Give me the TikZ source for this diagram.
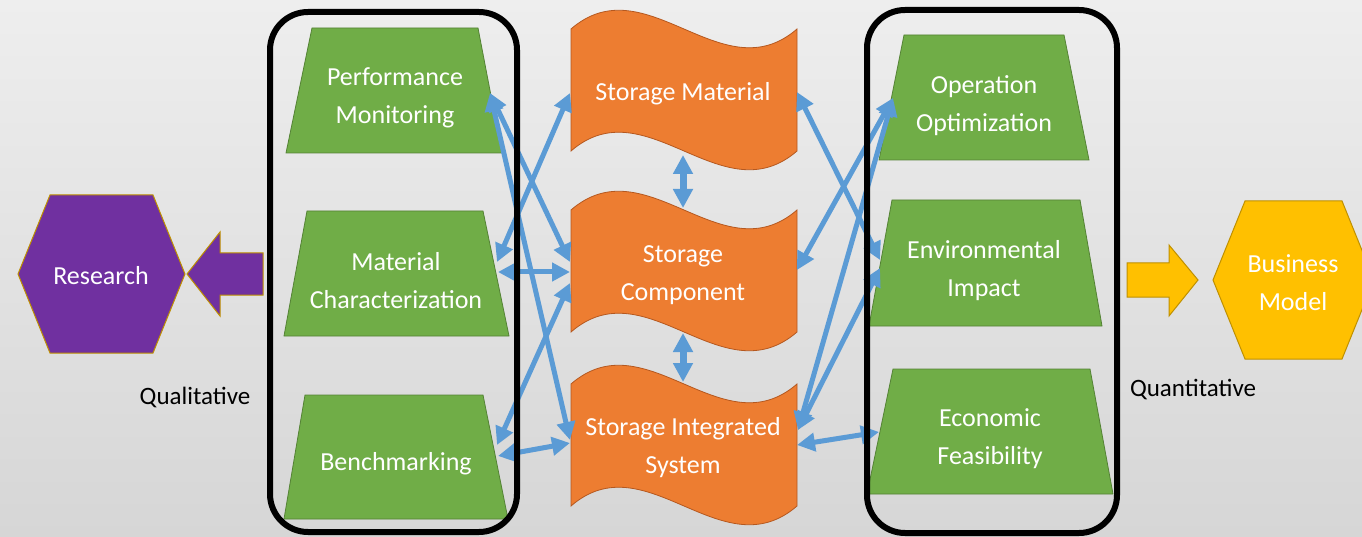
\documentclass[tikz,border=0pt]{standalone}
\usepackage{fontspec}
\setmainfont{Carlito}
\usetikzlibrary{arrows.meta}
\definecolor{bgtop}{HTML}{EEEEEE}
\definecolor{bgbot}{HTML}{D6D6D6}
\definecolor{grn}{HTML}{70AD47}
\definecolor{grnd}{HTML}{548235}
\definecolor{org}{HTML}{ED7D31}
\definecolor{orgd}{HTML}{B5581F}
\definecolor{blu}{HTML}{5B9BD5}
\definecolor{pur}{HTML}{7030A0}
\definecolor{gold}{HTML}{BF9000}
\definecolor{yel}{HTML}{FFC000}
\tikzset{
 greenbox/.style={fill=grn, draw=grnd, line width=0.8pt},
 wavebox/.style={fill=org, draw=orgd, line width=0.8pt},
 frame/.style={draw=black, line width=6pt, rounded corners=38pt},
 link/.style={draw=blu, line width=5pt, {Triangle[length=18pt,width=18pt]}-{Triangle[length=18pt,width=18pt]}},
 vlink/.style={draw=blu, line width=7pt, {Triangle[length=19pt,width=19pt]}-{Triangle[length=19pt,width=19pt]}},
 wtext/.style={text=white, font=\fontsize{26}{38}\selectfont, align=center, inner sep=0pt, yshift=-2pt},
 btext/.style={text=black, font=\fontsize{25}{30}\selectfont, inner sep=0pt},
}
\newcommand\wavepath{(0,0) .. controls (75,-65) and (151,65) .. (226,0) -- (226,122) .. controls (151,187) and (75,57) .. (0,122) -- cycle}
\begin{document}
\begin{tikzpicture}[x=1pt,y=-1pt]
\useasboundingbox (0,0) rectangle (1362,537);
\clip (0,0) rectangle (1362,537);
\shade[top color=bgtop, bottom color=bgbot] (0,0) rectangle (1362,537);

% left hexagon and arrow
\path[fill=pur, draw=gold, line width=1pt] (18,274) -- (50,195) -- (153,195) -- (185,274) -- (153,353) -- (50,353) -- cycle;
\node[wtext] (research) at (101,274) {Research};
\path[fill=pur, draw=gold, line width=1pt] (263,253) -- (220,253) -- (220,232) -- (187,274) -- (220,316) -- (220,295) -- (263,295) -- cycle;

% right hexagon and arrow
\path[fill=yel, draw=gold, line width=1pt] (1213,280) -- (1245,201) -- (1342,201) -- (1374,280) -- (1342,359) -- (1245,359) -- cycle;
\node[wtext] (bmodel) at (1293,281) {Business\\Model};
\path[fill=yel, draw=gold, line width=1pt] (1127,263) -- (1169,263) -- (1169,245) -- (1198,280) -- (1169,316) -- (1169,297) -- (1127,297) -- cycle;

% green trapezoids left
\path[greenbox] (312,28) -- (478,28) -- (502,153) -- (286,153) -- cycle;
\node[wtext] (pm) at (395,96) {Performance\\Monitoring};
\path[greenbox] (307,211) -- (483,211) -- (509,336) -- (284,336) -- cycle;
\node[wtext] (mc) at (396,279) {Material\\Characterization};
\path[greenbox] (305,395) -- (483,395) -- (508,519) -- (284,519) -- cycle;
\node[wtext] (bm) at (396,462) {Benchmarking};

% green trapezoids right
\path[greenbox] (904,35) -- (1064,35) -- (1089,160) -- (879,160) -- cycle;
\node[wtext] (oo) at (984,104) {Operation\\Optimization};
\path[greenbox] (892,200) -- (1080,200) -- (1102,326) -- (869,326) -- cycle;
\node[wtext] (ei) at (984,269) {Environmental\\Impact};
\path[greenbox] (893,369) -- (1090,369) -- (1113,494) -- (867,494) -- cycle;
\node[wtext] (ef) at (990,437) {Economic\\Feasibility};

% orange waves
\begin{scope}[shift={(571,29)}]\path[wavebox] \wavepath;\end{scope}
\node[wtext] (sm) at (683,92) {Storage Material};
\begin{scope}[shift={(571,210)}]\path[wavebox] \wavepath;\end{scope}
\node[wtext] (sc) at (683,273) {Storage\\Component};
\begin{scope}[shift={(571,384)}]\path[wavebox] \wavepath;\end{scope}
\node[wtext] (sis) at (683,446) {Storage Integrated\\System};

% connector end points
\coordinate (pmR) at (490,93);
\coordinate (mcR1) at (497,262);
\coordinate (mcR2) at (498,272);
\coordinate (bmR1) at (497,445);
\coordinate (bmR2) at (498,456);
\coordinate (smL) at (570,93);
\coordinate (smR) at (797,92);
\coordinate (smB) at (683,155);
\coordinate (scT) at (683,208);
\coordinate (scB) at (683,333);
\coordinate (sisT) at (683,382);
\coordinate (scL1) at (570,262);
\coordinate (scL2) at (570,272);
\coordinate (scL3) at (570,283);
\coordinate (scR) at (797,270);
\coordinate (sisL1) at (570,440);
\coordinate (sisL2) at (570,443);
\coordinate (sisR1) at (798,430);
\coordinate (sisR2) at (797,445);
\coordinate (ooL) at (893,98);
\coordinate (eiL1) at (880,260);
\coordinate (eiL2) at (880,268);
\coordinate (efL) at (879,432);

% connectors
\draw[link] (pmR) -- (scL1);
\draw[link] (pmR) -- (sisL1);
\draw[link] (smL) -- (mcR1);
\draw[link] (mcR2) -- (scL2);
\draw[link] (scL3) -- (bmR1);
\draw[link] (bmR2) -- (sisL2);
\draw[link] (smR) -- (eiL1);
\draw[link] (ooL) -- (scR);
\draw[link] (ooL) -- (sisR1);
\draw[link] (eiL2) -- (sisR1);
\draw[link] (sisR2) -- (efL);
\draw[vlink] (smB) -- (scT);
\draw[vlink] (scB) -- (sisT);

% frames
\draw[frame] (270,12) rectangle (517,532);
\draw[frame] (867,10) rectangle (1117,533);

% labels
\node[btext] (qual) at (195,397) {Qualitative};
\node[btext] (quant) at (1193,390) {Quantitative};
\end{tikzpicture}
\end{document}
